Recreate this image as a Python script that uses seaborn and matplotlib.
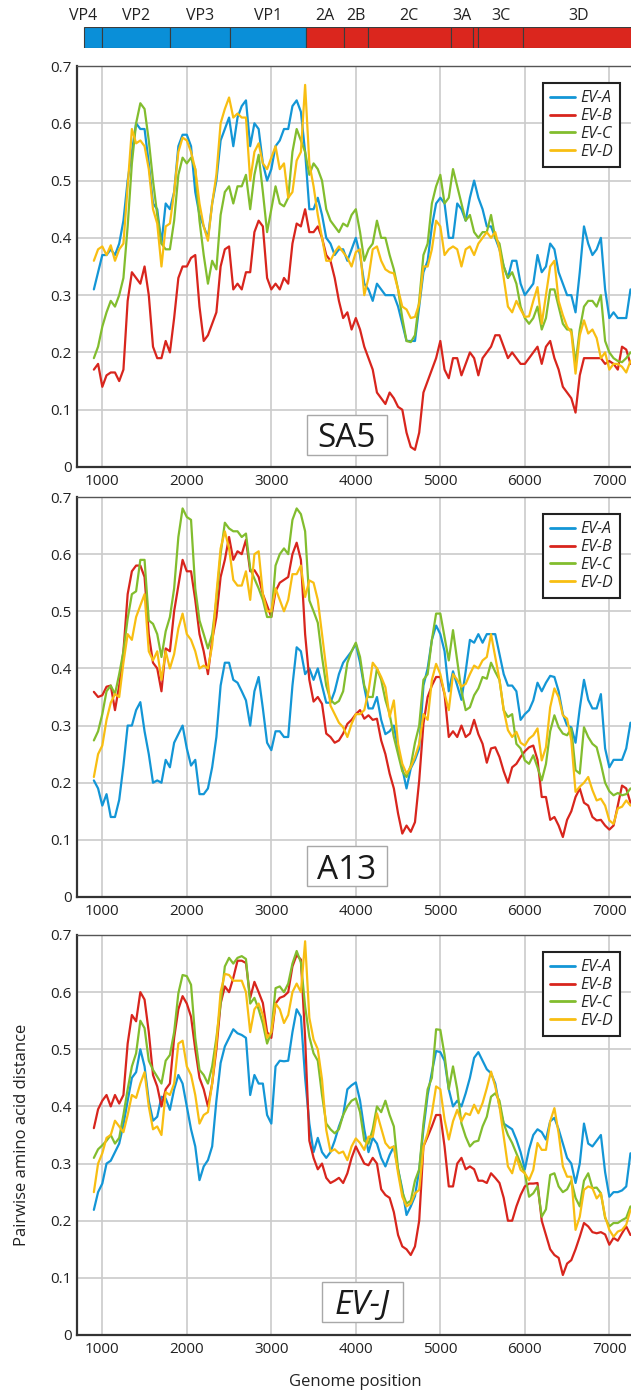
import matplotlib
matplotlib.use("Agg")
import matplotlib.pyplot as plt
from matplotlib.patches import Rectangle
from matplotlib.ticker import FuncFormatter
import numpy as np
import pandas as pd
import seaborn as sns

# ---------------- data ----------------
positions = list(range(900, 7251, 50))
lineages = ["EV-A", "EV-B", "EV-C", "EV-D"]
panel_names = ["SA5", "A13", "EV-J"]

sa5_ev_a = [0.31, 0.34, 0.37, 0.37, 0.38, 0.37, 0.39, 0.43, 0.50, 0.55,
            0.60, 0.59, 0.59, 0.53, 0.46, 0.45, 0.39, 0.46, 0.45, 0.48,
            0.56, 0.58, 0.58, 0.56, 0.48, 0.44, 0.42, 0.40, 0.46, 0.50,
            0.57, 0.59, 0.61, 0.56, 0.61, 0.63, 0.64, 0.56, 0.60, 0.59,
            0.53, 0.50, 0.52, 0.56, 0.57, 0.59, 0.59, 0.63, 0.64, 0.62,
            0.55, 0.45, 0.45, 0.47, 0.44, 0.40, 0.39, 0.37, 0.38, 0.38,
            0.36, 0.38, 0.40, 0.37, 0.32, 0.31, 0.29, 0.32, 0.31, 0.30,
            0.30, 0.30, 0.28, 0.25, 0.22, 0.22, 0.22, 0.28, 0.34, 0.36,
            0.42, 0.46, 0.47, 0.46, 0.40, 0.40, 0.46, 0.45, 0.43, 0.47,
            0.50, 0.47, 0.45, 0.42, 0.42, 0.40, 0.38, 0.35, 0.33, 0.36,
            0.36, 0.32, 0.30, 0.31, 0.32, 0.37, 0.34, 0.35, 0.39, 0.38,
            0.34, 0.32, 0.30, 0.30, 0.27, 0.34, 0.42, 0.39, 0.37, 0.38,
            0.40, 0.31, 0.26, 0.27, 0.26, 0.26, 0.26, 0.31]
sa5_ev_b = [0.17, 0.18, 0.14, 0.16, 0.165, 0.165, 0.15, 0.17, 0.29, 0.34,
            0.33, 0.32, 0.35, 0.30, 0.21, 0.19, 0.19, 0.22, 0.20, 0.26,
            0.33, 0.35, 0.35, 0.365, 0.37, 0.28, 0.22, 0.23, 0.25, 0.27,
            0.35, 0.38, 0.385, 0.31, 0.32, 0.31, 0.34, 0.34, 0.41, 0.43,
            0.42, 0.33, 0.31, 0.32, 0.31, 0.33, 0.32, 0.39, 0.425, 0.42,
            0.45, 0.41, 0.41, 0.42, 0.40, 0.37, 0.36, 0.33, 0.29, 0.26,
            0.27, 0.24, 0.26, 0.24, 0.21, 0.19, 0.17, 0.13, 0.12, 0.11,
            0.13, 0.12, 0.105, 0.10, 0.06, 0.035, 0.03, 0.06, 0.13, 0.15,
            0.17, 0.19, 0.22, 0.17, 0.155, 0.19, 0.19, 0.16, 0.18, 0.20,
            0.19, 0.16, 0.19, 0.20, 0.21, 0.23, 0.23, 0.21, 0.19, 0.20,
            0.19, 0.18, 0.18, 0.19, 0.20, 0.21, 0.18, 0.21, 0.22, 0.19,
            0.17, 0.14, 0.13, 0.12, 0.095, 0.16, 0.19, 0.19, 0.19, 0.19,
            0.19, 0.18, 0.185, 0.18, 0.17, 0.21, 0.205, 0.18]
sa5_ev_c = [0.19, 0.21, 0.245, 0.27, 0.29, 0.28, 0.30, 0.33, 0.42, 0.53,
            0.60, 0.635, 0.625, 0.57, 0.50, 0.44, 0.39, 0.38, 0.38, 0.43,
            0.51, 0.54, 0.53, 0.54, 0.52, 0.43, 0.37, 0.32, 0.36, 0.345,
            0.44, 0.48, 0.49, 0.46, 0.49, 0.49, 0.51, 0.45, 0.51, 0.545,
            0.48, 0.41, 0.45, 0.49, 0.46, 0.455, 0.47, 0.55, 0.59, 0.57,
            0.55, 0.51, 0.53, 0.52, 0.50, 0.45, 0.43, 0.42, 0.41, 0.425,
            0.42, 0.44, 0.45, 0.41, 0.36, 0.38, 0.39, 0.43, 0.40, 0.40,
            0.37, 0.345, 0.31, 0.26, 0.22, 0.218, 0.23, 0.29, 0.37, 0.39,
            0.46, 0.49, 0.51, 0.46, 0.47, 0.52, 0.49, 0.46, 0.43, 0.44,
            0.41, 0.40, 0.41, 0.41, 0.44, 0.40, 0.39, 0.35, 0.33, 0.34,
            0.32, 0.28, 0.26, 0.25, 0.26, 0.28, 0.24, 0.26, 0.31, 0.31,
            0.28, 0.25, 0.24, 0.24, 0.18, 0.24, 0.28, 0.29, 0.29, 0.28,
            0.30, 0.22, 0.20, 0.19, 0.185, 0.183, 0.19, 0.20]
sa5_ev_d = [0.36, 0.38, 0.385, 0.37, 0.387, 0.36, 0.38, 0.39, 0.49, 0.59,
            0.565, 0.57, 0.56, 0.52, 0.45, 0.425, 0.35, 0.42, 0.425, 0.48,
            0.55, 0.575, 0.57, 0.55, 0.52, 0.46, 0.42, 0.395, 0.46, 0.51,
            0.60, 0.625, 0.645, 0.61, 0.617, 0.61, 0.61, 0.50, 0.55, 0.565,
            0.53, 0.52, 0.54, 0.56, 0.52, 0.53, 0.47, 0.48, 0.535, 0.55,
            0.667, 0.53, 0.49, 0.44, 0.40, 0.36, 0.36, 0.375, 0.385, 0.375,
            0.365, 0.35, 0.375, 0.38, 0.30, 0.33, 0.38, 0.385, 0.36, 0.345,
            0.34, 0.338, 0.31, 0.28, 0.275, 0.26, 0.262, 0.285, 0.35, 0.35,
            0.38, 0.43, 0.42, 0.37, 0.38, 0.385, 0.38, 0.35, 0.38, 0.385,
            0.37, 0.39, 0.40, 0.41, 0.40, 0.41, 0.38, 0.33, 0.28, 0.27,
            0.29, 0.275, 0.262, 0.263, 0.29, 0.314, 0.25, 0.30, 0.35, 0.36,
            0.29, 0.265, 0.245, 0.235, 0.163, 0.23, 0.256, 0.233, 0.24, 0.225,
            0.19, 0.20, 0.17, 0.18, 0.18, 0.175, 0.165, 0.185]

a13_ev_a = [0.204, 0.19, 0.16, 0.18, 0.14, 0.14, 0.17, 0.23, 0.30, 0.30,
            0.327, 0.341, 0.29, 0.25, 0.20, 0.204, 0.20, 0.24, 0.227, 0.27,
            0.285, 0.30, 0.26, 0.23, 0.24, 0.18, 0.18, 0.19, 0.227, 0.28,
            0.37, 0.41, 0.41, 0.38, 0.375, 0.36, 0.344, 0.30, 0.36, 0.385,
            0.33, 0.27, 0.257, 0.29, 0.29, 0.28, 0.28, 0.37, 0.437, 0.43,
            0.39, 0.40, 0.38, 0.40, 0.37, 0.34, 0.34, 0.36, 0.39, 0.41,
            0.42, 0.43, 0.443, 0.41, 0.367, 0.33, 0.33, 0.35, 0.31, 0.285,
            0.29, 0.30, 0.26, 0.225, 0.19, 0.225, 0.24, 0.26, 0.37, 0.40,
            0.45, 0.475, 0.46, 0.43, 0.36, 0.395, 0.37, 0.345, 0.395, 0.45,
            0.445, 0.46, 0.445, 0.46, 0.46, 0.46, 0.425, 0.39, 0.37, 0.37,
            0.36, 0.31, 0.32, 0.327, 0.344, 0.375, 0.36, 0.375, 0.387, 0.385,
            0.36, 0.32, 0.30, 0.297, 0.27, 0.33, 0.38, 0.345, 0.33, 0.33,
            0.355, 0.26, 0.227, 0.24, 0.24, 0.24, 0.26, 0.305]
a13_ev_b = [0.359, 0.35, 0.353, 0.368, 0.37, 0.327, 0.37, 0.43, 0.53, 0.57,
            0.58, 0.58, 0.56, 0.46, 0.41, 0.40, 0.36, 0.435, 0.43, 0.50,
            0.545, 0.59, 0.57, 0.57, 0.52, 0.46, 0.43, 0.39, 0.45, 0.49,
            0.56, 0.59, 0.63, 0.59, 0.605, 0.60, 0.625, 0.57, 0.572, 0.56,
            0.53, 0.51, 0.49, 0.535, 0.55, 0.555, 0.56, 0.60, 0.62, 0.59,
            0.46, 0.38, 0.342, 0.35, 0.338, 0.286, 0.28, 0.27, 0.274, 0.286,
            0.303, 0.31, 0.32, 0.327, 0.312, 0.318, 0.31, 0.312, 0.274, 0.25,
            0.216, 0.19, 0.146, 0.111, 0.125, 0.114, 0.131, 0.204, 0.303, 0.35,
            0.37, 0.385, 0.385, 0.355, 0.28, 0.29, 0.28, 0.30, 0.28, 0.286,
            0.31, 0.285, 0.268, 0.235, 0.26, 0.262, 0.245, 0.22, 0.20, 0.227,
            0.233, 0.245, 0.255, 0.262, 0.265, 0.24, 0.175, 0.175, 0.135, 0.14,
            0.125, 0.105, 0.135, 0.15, 0.175, 0.19, 0.165, 0.16, 0.14, 0.134,
            0.135, 0.125, 0.118, 0.125, 0.16, 0.195, 0.19, 0.165]
a13_ev_c = [0.274, 0.29, 0.32, 0.36, 0.37, 0.355, 0.39, 0.43, 0.487, 0.53,
            0.535, 0.59, 0.59, 0.484, 0.478, 0.46, 0.42, 0.465, 0.49, 0.54,
            0.63, 0.68, 0.665, 0.66, 0.54, 0.484, 0.46, 0.435, 0.46, 0.52,
            0.60, 0.655, 0.645, 0.64, 0.64, 0.63, 0.636, 0.575, 0.557, 0.54,
            0.52, 0.49, 0.49, 0.58, 0.60, 0.61, 0.60, 0.66, 0.68, 0.67,
            0.64, 0.519, 0.50, 0.48, 0.42, 0.37, 0.345, 0.338, 0.343, 0.36,
            0.41, 0.43, 0.445, 0.42, 0.37, 0.35, 0.35, 0.40, 0.38, 0.345,
            0.32, 0.28, 0.25, 0.22, 0.21, 0.23, 0.27, 0.30, 0.38, 0.39,
            0.45, 0.496, 0.496, 0.455, 0.414, 0.467, 0.414, 0.36, 0.327, 0.332,
            0.353, 0.365, 0.385, 0.382, 0.41, 0.394, 0.38, 0.327, 0.315, 0.32,
            0.268, 0.26, 0.239, 0.233, 0.248, 0.227, 0.204, 0.233, 0.29, 0.318,
            0.297, 0.286, 0.283, 0.295, 0.222, 0.216, 0.297, 0.28, 0.268, 0.262,
            0.233, 0.20, 0.185, 0.178, 0.182, 0.178, 0.18, 0.19]
a13_ev_d = [0.21, 0.25, 0.265, 0.31, 0.34, 0.355, 0.35, 0.41, 0.46, 0.45,
            0.49, 0.51, 0.53, 0.43, 0.414, 0.43, 0.38, 0.43, 0.40, 0.425,
            0.47, 0.496, 0.46, 0.45, 0.43, 0.40, 0.405, 0.40, 0.44, 0.53,
            0.61, 0.64, 0.61, 0.555, 0.545, 0.545, 0.57, 0.52, 0.60, 0.605,
            0.53, 0.50, 0.50, 0.54, 0.52, 0.50, 0.52, 0.565, 0.565, 0.58,
            0.525, 0.554, 0.55, 0.52, 0.46, 0.40, 0.335, 0.32, 0.305, 0.297,
            0.28, 0.303, 0.32, 0.32, 0.327, 0.36, 0.41, 0.40, 0.385, 0.367,
            0.315, 0.344, 0.268, 0.233, 0.216, 0.227, 0.245, 0.268, 0.32, 0.31,
            0.38, 0.408, 0.39, 0.356, 0.327, 0.39, 0.38, 0.368, 0.373, 0.39,
            0.405, 0.40, 0.414, 0.42, 0.46, 0.42, 0.38, 0.327, 0.292, 0.28,
            0.289, 0.27, 0.265, 0.277, 0.283, 0.295, 0.239, 0.262, 0.332, 0.365,
            0.35, 0.318, 0.312, 0.274, 0.184, 0.193, 0.20, 0.21, 0.187, 0.169,
            0.172, 0.16, 0.134, 0.128, 0.155, 0.158, 0.169, 0.16]

evj_ev_a = [0.219, 0.25, 0.265, 0.30, 0.305, 0.32, 0.335, 0.368, 0.41, 0.45,
            0.46, 0.50, 0.47, 0.41, 0.375, 0.382, 0.417, 0.414, 0.394, 0.43,
            0.455, 0.44, 0.40, 0.36, 0.33, 0.271, 0.295, 0.306, 0.33, 0.41,
            0.476, 0.505, 0.52, 0.535, 0.528, 0.525, 0.52, 0.42, 0.455, 0.44,
            0.44, 0.385, 0.37, 0.47, 0.48, 0.479, 0.48, 0.53, 0.57, 0.557,
            0.45, 0.37, 0.32, 0.345, 0.32, 0.31, 0.32, 0.34, 0.365, 0.385,
            0.43, 0.437, 0.442, 0.41, 0.36, 0.32, 0.345, 0.335, 0.31, 0.295,
            0.315, 0.33, 0.29, 0.255, 0.21, 0.225, 0.243, 0.289, 0.36, 0.42,
            0.46, 0.497, 0.495, 0.48, 0.43, 0.40, 0.41, 0.40, 0.423, 0.45,
            0.485, 0.495, 0.48, 0.465, 0.458, 0.44, 0.40, 0.37, 0.365, 0.36,
            0.342, 0.32, 0.29, 0.325, 0.35, 0.36, 0.355, 0.342, 0.374, 0.38,
            0.36, 0.335, 0.31, 0.30, 0.266, 0.30, 0.37, 0.335, 0.33, 0.34,
            0.35, 0.285, 0.242, 0.25, 0.25, 0.253, 0.26, 0.318]
evj_ev_b = [0.362, 0.395, 0.41, 0.42, 0.40, 0.42, 0.405, 0.42, 0.51, 0.56,
            0.549, 0.60, 0.587, 0.53, 0.455, 0.435, 0.40, 0.43, 0.44, 0.52,
            0.57, 0.593, 0.58, 0.557, 0.50, 0.45, 0.43, 0.40, 0.44, 0.50,
            0.58, 0.61, 0.60, 0.625, 0.655, 0.655, 0.651, 0.59, 0.618, 0.60,
            0.581, 0.53, 0.52, 0.58, 0.59, 0.593, 0.60, 0.645, 0.665, 0.657,
            0.52, 0.34, 0.31, 0.29, 0.30, 0.275, 0.266, 0.27, 0.275, 0.266,
            0.283, 0.31, 0.33, 0.315, 0.30, 0.297, 0.31, 0.30, 0.255, 0.245,
            0.24, 0.215, 0.175, 0.155, 0.15, 0.14, 0.155, 0.20, 0.33, 0.347,
            0.365, 0.385, 0.385, 0.33, 0.26, 0.26, 0.30, 0.31, 0.29, 0.295,
            0.29, 0.27, 0.27, 0.266, 0.283, 0.275, 0.266, 0.24, 0.20, 0.20,
            0.225, 0.245, 0.26, 0.265, 0.265, 0.266, 0.20, 0.175, 0.15, 0.14,
            0.135, 0.105, 0.125, 0.131, 0.15, 0.172, 0.196, 0.19, 0.18, 0.178,
            0.18, 0.176, 0.158, 0.17, 0.165, 0.178, 0.19, 0.175]
evj_ev_c = [0.31, 0.325, 0.332, 0.34, 0.35, 0.335, 0.345, 0.385, 0.43, 0.47,
            0.493, 0.55, 0.537, 0.48, 0.464, 0.452, 0.44, 0.48, 0.49, 0.53,
            0.598, 0.63, 0.628, 0.613, 0.52, 0.464, 0.455, 0.44, 0.47, 0.52,
            0.58, 0.645, 0.66, 0.65, 0.66, 0.663, 0.658, 0.58, 0.59, 0.57,
            0.545, 0.51, 0.53, 0.607, 0.61, 0.60, 0.615, 0.65, 0.672, 0.652,
            0.575, 0.522, 0.493, 0.48, 0.42, 0.37, 0.36, 0.353, 0.36, 0.385,
            0.40, 0.41, 0.414, 0.39, 0.34, 0.335, 0.36, 0.40, 0.39, 0.41,
            0.385, 0.365, 0.29, 0.25, 0.23, 0.235, 0.27, 0.29, 0.37, 0.43,
            0.45, 0.535, 0.534, 0.49, 0.43, 0.47, 0.43, 0.37, 0.347, 0.33,
            0.338, 0.34, 0.365, 0.382, 0.417, 0.423, 0.41, 0.37, 0.35, 0.336,
            0.318, 0.30, 0.283, 0.242, 0.248, 0.26, 0.207, 0.22, 0.28, 0.283,
            0.26, 0.25, 0.255, 0.27, 0.24, 0.225, 0.27, 0.283, 0.257, 0.258,
            0.248, 0.205, 0.19, 0.196, 0.196, 0.201, 0.205, 0.225]
evj_ev_d = [0.25, 0.30, 0.318, 0.345, 0.35, 0.375, 0.365, 0.355, 0.385, 0.42,
            0.415, 0.44, 0.46, 0.40, 0.36, 0.365, 0.35, 0.425, 0.42, 0.44,
            0.51, 0.515, 0.47, 0.455, 0.42, 0.37, 0.385, 0.39, 0.44, 0.51,
            0.60, 0.632, 0.63, 0.62, 0.62, 0.62, 0.60, 0.53, 0.57, 0.58,
            0.56, 0.52, 0.53, 0.58, 0.57, 0.546, 0.56, 0.60, 0.615, 0.60,
            0.689, 0.555, 0.517, 0.50, 0.447, 0.359, 0.321, 0.325, 0.318, 0.321,
            0.306, 0.33, 0.344, 0.336, 0.324, 0.347, 0.347, 0.388, 0.362, 0.336,
            0.327, 0.33, 0.283, 0.242, 0.225, 0.23, 0.248, 0.254, 0.33, 0.353,
            0.388, 0.435, 0.43, 0.377, 0.342, 0.374, 0.394, 0.374, 0.388, 0.385,
            0.403, 0.388, 0.406, 0.432, 0.461, 0.435, 0.40, 0.347, 0.295, 0.283,
            0.312, 0.289, 0.283, 0.271, 0.289, 0.336, 0.324, 0.324, 0.374, 0.397,
            0.353, 0.295, 0.277, 0.277, 0.184, 0.207, 0.254, 0.26, 0.257, 0.239,
            0.248, 0.207, 0.184, 0.172, 0.181, 0.184, 0.193, 0.219]

panel_series = [
    [sa5_ev_a, sa5_ev_b, sa5_ev_c, sa5_ev_d],
    [a13_ev_a, a13_ev_b, a13_ev_c, a13_ev_d],
    [evj_ev_a, evj_ev_b, evj_ev_c, evj_ev_d],
]

gene_names = ["VP4", "VP2", "VP3", "VP1", "2A", "2B", "2C", "3A", "3B", "3C", "3D"]
gene_starts = [778, 996, 1804, 2506, 3414, 3864, 4139, 5121, 5382, 5449, 5982]
gene_end = 7450
structural = {"VP4", "VP2", "VP3", "VP1"}
unlabelled = {"3B"}

x_ticks = [1000, 2000, 3000, 4000, 5000, 6000, 7000]
y_ticks = [0, 0.1, 0.2, 0.3, 0.4, 0.5, 0.6, 0.7]

# ---------------- style ----------------
line_colors = ["#1396D6", "#D8251D", "#82BD2E", "#F8BE12"]
bar_blue = "#0A8FD8"
bar_red = "#DB261E"

sns.set_style("white")
plt.rcParams["font.family"] = ["Open Sans", "DejaVu Sans"]

W, H = 631, 1393
fig = plt.figure(figsize=(W / 100, H / 100), dpi=100)


def rect(l, t, r, b):
    return [l / W, 1 - b / H, (r - l) / W, (b - t) / H]


XLIM = (697, 7280)
AX_L, AX_R = 76.7, 633

# ---- genome map ----
gax = fig.add_axes(rect(AX_L, 27, AX_R, 48))
ends = gene_starts[1:] + [gene_end]
widths = [e - s for s, e in zip(gene_starts, ends)]
colors = [bar_blue if g in structural else bar_red for g in gene_names]
gax.barh([0] * len(gene_names), widths, left=gene_starts, height=1.0,
         color=colors, edgecolor="#3c3c3c", linewidth=0.8)
gax.set_xlim(*XLIM)
gax.set_ylim(-0.5, 0.5)
gax.axis("off")
for g, s, e in zip(gene_names, gene_starts, ends):
    if g in unlabelled:
        continue
    vis_e = min(e, XLIM[1])
    xc = s if g == "VP4" else (s + vis_e) / 2
    gax.text(xc, 1.02, g, ha="center", va="center", fontsize=11.5, color="#222222")

# ---- panels ----
panel_px = [(66, 467), (497, 897), (935, 1335)]
label_boxes = [(307, 387, 415, 455), (307, 387, 846, 886), (322, 403, 1282, 1322)]
label_italic = [False, False, True]

for i, (top, bot) in enumerate(panel_px):
    ax = fig.add_axes(rect(AX_L, top, AX_R, bot))
    rows = []
    for lin, vals in zip(lineages, panel_series[i]):
        for p, v in zip(positions, vals):
            rows.append((p, v, lin))
    df = pd.DataFrame(rows, columns=["pos", "dist", "lineage"])
    sns.lineplot(data=df, x="pos", y="dist", hue="lineage", hue_order=lineages,
                 palette=line_colors, linewidth=1.6, estimator=None, sort=False,
                 ax=ax, legend=True)
    ax.set_xlim(*XLIM)
    ax.set_ylim(0, 0.7)
    ax.set_xticks(x_ticks)
    ax.set_yticks(y_ticks)
    ax.yaxis.set_major_formatter(FuncFormatter(lambda v, _: "0" if abs(v) < 1e-9 else f"{v:.1f}"))
    ax.grid(True, color="#cbcbcb", linewidth=1.2)
    ax.set_axisbelow(True)
    ax.tick_params(axis="both", length=0, labelsize=11, colors="#222222")
    ax.tick_params(axis="x", pad=5)
    ax.tick_params(axis="y", pad=3.5)
    for side in ("left", "bottom"):
        ax.spines[side].set_color("#333333")
        ax.spines[side].set_linewidth(1.6)
    ax.spines["top"].set_color("#555555")
    ax.spines["top"].set_linewidth(1.0)
    ax.spines["right"].set_visible(False)
    ax.set_xlabel("")
    ax.set_ylabel("")

    handles, labels = ax.get_legend_handles_labels()
    axw = AX_R - AX_L
    axh = bot - top
    leg = ax.legend(handles, labels, loc="upper right",
                    bbox_to_anchor=((620 - AX_L) / axw, 1 - 17 / axh),
                    borderaxespad=0, frameon=True, fancybox=False, framealpha=1,
                    prop={"family": ["Open Sans", "DejaVu Sans"], "style": "italic", "size": 11.5},
                    handlelength=1.6, handletextpad=0.3, labelspacing=0.12, borderpad=0.45)
    leg.get_frame().set_edgecolor("#222222")
    leg.get_frame().set_linewidth(1.5)
    for h in leg.get_lines():
        h.set_linewidth(2.0)

    l, r, bt, bb = label_boxes[i]
    bx = (l - AX_L) / axw
    by = (bot - bb) / axh
    ax.add_patch(Rectangle((bx, by), (r - l) / axw, (bb - bt) / axh,
                           transform=ax.transAxes, facecolor="white",
                           edgecolor="#a8a8a8", linewidth=1.0, zorder=5))
    ax.text(bx + (r - l) / axw / 2, by + (bb - bt) / axh / 2, panel_names[i],
            transform=ax.transAxes, ha="center", va="center_baseline",
            fontsize=24, style="italic" if label_italic[i] else "normal",
            color="#1a1a1a", zorder=6)

    if i == 2:
        ax.set_ylabel("Pairwise amino acid distance", fontsize=12, color="#222222")
        ax.yaxis.label.set_va("center")
        ax.yaxis.set_label_coords((22 - AX_L) / axw, 0.5)
        ax.set_xlabel("Genome position", fontsize=12, color="#222222")
        ax.xaxis.label.set_va("center")
        ax.xaxis.set_label_coords(0.5, -(1382 - bot) / axh)

fig.savefig("out.png", dpi=100)
